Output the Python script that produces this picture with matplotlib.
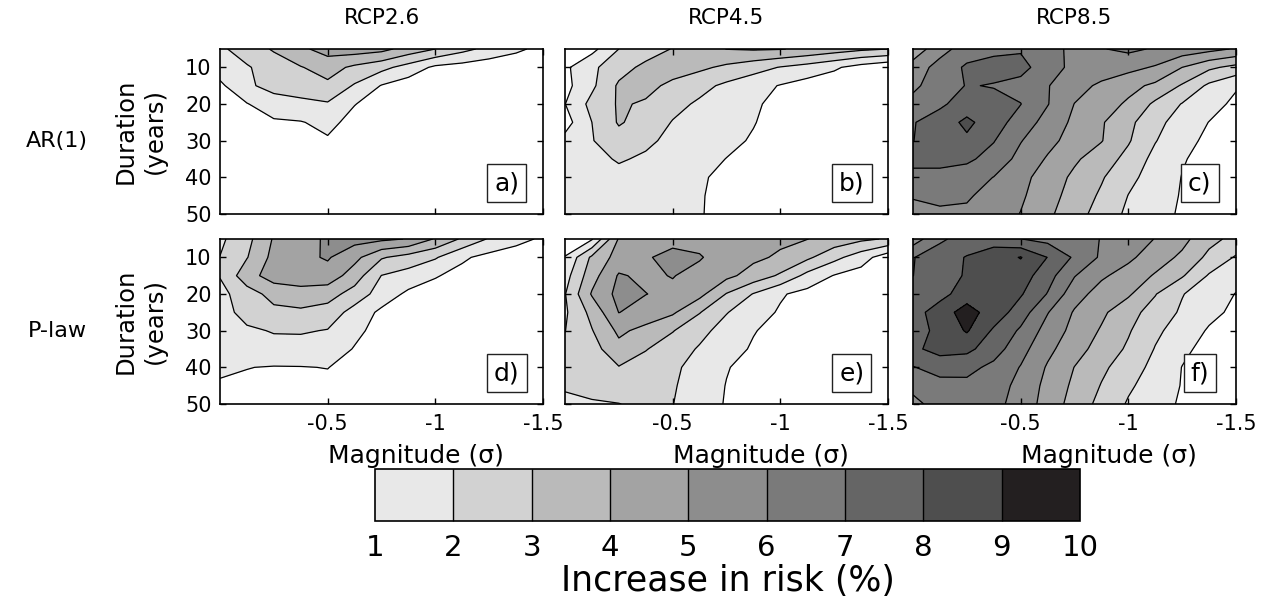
import matplotlib
matplotlib.use("Agg")
import matplotlib.pyplot as plt
from matplotlib.colors import ListedColormap, BoundaryNorm
from matplotlib.cm import ScalarMappable

plt.rcParams['font.family'] = ['DejaVu Sans']
plt.rcParams['axes.unicode_minus'] = False

# grid of the risk maps
magnitude = [0, -0.125, -0.25, -0.375, -0.5, -0.625, -0.75, -0.875,
             -1.0, -1.125, -1.25, -1.375, -1.5]
duration = [5, 10, 15, 20, 25, 30, 35, 40, 45, 50]

# increase in risk (%), rows = duration, cols = magnitude
risk_a = [
    [1.8, 2.5, 3.1, 3.8, 4.4, 4.5, 4.3, 3.6, 3.0, 2.3, 1.7, 1.2, 0.7],
    [1.5, 1.9, 2.5, 2.95, 3.4, 2.8, 2.3, 1.6, 0.8, 0.6, 0.4, 0.3, 0.2],
    [0.8, 1.85, 2.3, 2.6, 2.8, 1.9, 0.95, 0.5, 0.4, 0.3, 0.3, 0.2, 0.2],
    [0.6, 0.95, 1.6, 1.7, 1.9, 1.03, 0.6, 0.4, 0.3, 0.3, 0.2, 0.2, 0.1],
    [0.4, 0.6, 0.85, 0.95, 1.25, 0.7, 0.5, 0.3, 0.3, 0.2, 0.2, 0.1, 0.1],
    [0.3, 0.5, 0.6, 0.7, 0.9, 0.6, 0.4, 0.3, 0.2, 0.2, 0.1, 0.1, 0.1],
    [0.3, 0.4, 0.5, 0.6, 0.7, 0.5, 0.4, 0.3, 0.2, 0.2, 0.1, 0.1, 0.1],
    [0.2, 0.3, 0.4, 0.5, 0.6, 0.4, 0.3, 0.2, 0.2, 0.1, 0.1, 0.1, 0.1],
    [0.2, 0.3, 0.3, 0.4, 0.5, 0.4, 0.3, 0.2, 0.1, 0.1, 0.1, 0.1, 0.1],
    [0.2, 0.2, 0.3, 0.3, 0.4, 0.3, 0.2, 0.2, 0.1, 0.1, 0.1, 0.1, 0.1],
]
risk_b = [
    [0.4, 0.7, 2.0, 2.5, 3.05, 3.5, 4.02, 4.1, 4.05, 3.8, 3.5, 3.2, 3.0],
    [0.8, 1.8, 2.6, 3.25, 3.4, 3.2, 2.8, 2.4, 1.95, 1.6, 1.15, 0.6, 0.2],
    [0.7, 1.8, 3.15, 3.25, 2.8, 2.3, 1.8, 1.35, 0.95, 0.6, 0.4, 0.3, 0.2],
    [0.98, 2.3, 3.1, 2.9, 2.3, 1.85, 1.6, 1.15, 0.7, 0.5, 0.35, 0.25, 0.2],
    [0.6, 2.0, 3.1, 2.6, 1.95, 1.7, 1.45, 1.05, 0.6, 0.45, 0.3, 0.25, 0.2],
    [1.3, 1.95, 2.6, 2.2, 1.75, 1.5, 1.25, 0.9, 0.55, 0.4, 0.3, 0.25, 0.2],
    [1.4, 1.7, 2.1, 1.85, 1.6, 1.35, 0.98, 0.7, 0.5, 0.4, 0.3, 0.2, 0.2],
    [1.4, 1.5, 1.7, 1.55, 1.4, 1.1, 0.8, 0.6, 0.45, 0.35, 0.3, 0.2, 0.2],
    [1.35, 1.4, 1.5, 1.4, 1.3, 1.05, 0.8, 0.6, 0.5, 0.4, 0.3, 0.2, 0.2],
    [1.3, 1.35, 1.4, 1.35, 1.25, 1.05, 0.75, 0.55, 0.45, 0.35, 0.3, 0.2, 0.2],
]
risk_c = [
    [4.4, 5.6, 6.5, 6.8, 6.9, 6.3, 5.8, 5.95, 6.2, 5.9, 5.6, 5.3, 4.9],
    [5.4, 6.4, 7.15, 7.3, 7.3, 6.5, 5.7, 5.6, 5.3, 4.9, 4.0, 3.2, 2.7],
    [5.8, 6.5, 7.05, 6.95, 6.7, 6.05, 5.4, 4.8, 4.3, 3.8, 2.9, 1.8, 1.1],
    [6.3, 6.85, 7.4, 7.3, 7.02, 6.05, 4.98, 4.45, 3.85, 2.8, 1.95, 1.35, 0.8],
    [6.95, 7.4, 8.25, 7.4, 6.6, 5.6, 4.8, 4.1, 3.25, 2.3, 1.55, 0.98, 0.6],
    [6.98, 7.5, 7.8, 7.05, 6.05, 5.3, 4.6, 4.05, 3.1, 2.05, 1.3, 0.8, 0.5],
    [7.3, 7.35, 7.2, 6.6, 5.7, 4.9, 4.15, 3.5, 2.7, 1.7, 1.07, 0.7, 0.4],
    [6.7, 6.65, 6.45, 5.98, 5.3, 4.55, 3.8, 3.1, 2.25, 1.6, 0.97, 0.6, 0.35],
    [6.05, 6.2, 6.1, 5.7, 5.15, 4.4, 3.6, 2.85, 1.98, 1.5, 0.92, 0.55, 0.3],
    [5.8, 5.85, 5.85, 5.5, 4.97, 4.2, 3.4, 2.6, 1.8, 1.4, 0.85, 0.5, 0.3],
]
risk_d = [
    [1.8, 2.7, 4.1, 4.6, 5.15, 5.35, 5.2, 4.95, 3.9, 2.85, 1.9, 1.3, 0.85],
    [2.02, 2.95, 4.3, 4.75, 5.1, 4.3, 3.1, 2.6, 2.1, 1.15, 0.7, 0.5, 0.4],
    [2.05, 3.6, 4.45, 4.7, 4.6, 3.5, 1.98, 1.6, 1.07, 0.7, 0.45, 0.35, 0.3],
    [1.7, 2.55, 3.35, 3.5, 3.4, 2.6, 1.55, 0.8, 0.6, 0.45, 0.35, 0.3, 0.25],
    [1.6, 2.35, 2.75, 2.85, 2.6, 1.6, 0.8, 0.55, 0.45, 0.35, 0.3, 0.25, 0.2],
    [1.5, 1.85, 2.06, 2.1, 1.95, 1.2, 0.7, 0.5, 0.4, 0.3, 0.25, 0.2, 0.2],
    [1.4, 1.55, 1.7, 1.6, 1.45, 0.95, 0.6, 0.45, 0.35, 0.3, 0.2, 0.2, 0.2],
    [1.15, 1.02, 0.95, 0.97, 1.02, 0.7, 0.5, 0.4, 0.3, 0.25, 0.2, 0.2, 0.15],
    [0.9, 0.85, 0.8, 0.8, 0.8, 0.6, 0.45, 0.35, 0.3, 0.2, 0.2, 0.15, 0.15],
    [0.7, 0.7, 0.7, 0.7, 0.7, 0.5, 0.4, 0.3, 0.25, 0.2, 0.15, 0.15, 0.1],
]
risk_e = [
    [0.3, 0.9, 4.1, 4.5, 4.7, 4.6, 4.45, 4.35, 4.2, 4.02, 3.6, 3.2, 2.9],
    [1.05, 3.2, 4.4, 4.9, 5.3, 5.1, 4.4, 4.2, 3.85, 3.2, 2.3, 1.45, 0.4],
    [1.6, 3.6, 5.1, 4.8, 5.05, 4.6, 4.25, 3.6, 2.85, 1.7, 0.95, 0.6, 0.35],
    [1.95, 4.1, 5.3, 5.02, 4.75, 4.3, 2.95, 1.95, 1.1, 0.7, 0.5, 0.4, 0.3],
    [1.85, 3.3, 5.02, 4.6, 4.15, 3.05, 2.05, 1.4, 0.9, 0.6, 0.45, 0.35, 0.3],
    [1.98, 2.95, 4.2, 3.7, 3.05, 2.3, 1.6, 1.05, 0.7, 0.5, 0.4, 0.3, 0.25],
    [2.2, 2.6, 3.7, 3.05, 2.5, 1.9, 1.35, 0.9, 0.6, 0.45, 0.35, 0.3, 0.2],
    [2.3, 2.5, 2.95, 2.6, 2.2, 1.6, 1.05, 0.7, 0.5, 0.4, 0.3, 0.25, 0.2],
    [2.1, 2.3, 2.45, 2.35, 2.1, 1.5, 0.97, 0.65, 0.45, 0.35, 0.3, 0.25, 0.2],
    [1.8, 1.9, 1.98, 2.2, 2.02, 1.45, 0.93, 0.6, 0.45, 0.35, 0.3, 0.2, 0.2],
]
risk_f = [
    [5.5, 6.8, 7.5, 7.6, 7.02, 6.7, 6.35, 5.97, 5.5, 4.97, 4.3, 3.3, 2.7],
    [6.95, 7.6, 8.05, 8.5, 9.05, 7.98, 6.85, 5.85, 5.2, 4.5, 3.8, 2.75, 1.9],
    [6.99, 7.55, 8.1, 8.6, 8.5, 7.4, 6.05, 5.15, 4.6, 3.9, 3.1, 1.9, 1.3],
    [7.3, 7.6, 8.6, 8.5, 8.1, 6.95, 5.4, 4.6, 4.15, 3.05, 2.05, 1.45, 0.97],
    [7.5, 8.6, 9.35, 8.6, 7.5, 6.05, 4.9, 4.2, 3.35, 2.6, 1.85, 1.25, 0.8],
    [7.6, 8.25, 9.1, 7.85, 6.85, 5.6, 4.7, 3.9, 3.1, 2.2, 1.55, 0.9, 0.6],
    [7.8, 8.35, 8.25, 7.45, 6.35, 5.25, 4.4, 3.6, 2.85, 1.95, 1.2, 0.7, 0.5],
    [6.95, 7.4, 7.3, 6.75, 5.95, 4.9, 3.98, 3.2, 2.5, 1.7, 0.98, 0.6, 0.4],
    [6.2, 6.65, 6.75, 6.4, 5.75, 4.7, 3.8, 2.95, 2.15, 1.55, 0.95, 0.55, 0.35],
    [5.8, 6.3, 6.35, 6.3, 5.6, 4.6, 3.6, 2.7, 1.9, 1.45, 0.85, 0.5, 0.3],
]

scenarios = ["RCP2.6", "RCP4.5", "RCP8.5"]
models = ["AR(1)", "P-law"]
panel_tags = ["a)", "b)", "c)", "d)", "e)", "f)"]
risk_levels = [1, 2, 3, 4, 5, 6, 7, 8, 9, 10]
band_colors = ["#e8e8e8", "#d2d2d2", "#bababa", "#a3a3a3", "#8d8d8d",
               "#7a7a7a", "#656565", "#4e4e4e", "#231f20"]

fig = plt.figure(figsize=(12.64, 5.99), dpi=100)
W, H = 1264.0, 599.0
col_left = [220, 565, 913]
row_top = [49, 239]
pw, ph = 323, 165

grids = [[risk_a, risk_b, risk_c], [risk_d, risk_e, risk_f]]
for r in range(2):
    for c in range(3):
        ax = fig.add_axes([col_left[c] / W, 1 - (row_top[r] + ph) / H, pw / W, ph / H])
        z = grids[r][c]
        ax.contourf(magnitude, duration, z, levels=[-1] + risk_levels,
                    colors=["white"] + band_colors)
        ax.contour(magnitude, duration, z, levels=risk_levels[:-1],
                   colors="k", linewidths=0.9)
        ax.set_xlim(0, -1.5)
        ax.set_ylim(50, 5)
        ax.set_xticks([-0.5, -1, -1.5])
        ax.set_yticks([10, 20, 30, 40, 50])
        ax.tick_params(direction="in", top=True, right=True, length=4,
                       width=1, labelsize=15)
        ax.tick_params(axis="x", pad=7)
        ax.tick_params(axis="y", pad=6)
        for s in ax.spines.values():
            s.set_linewidth(1.2)
        if r == 0:
            ax.set_xticklabels([])
            fig.text((col_left[c] + pw / 2) / W, 1 - 18 / H, scenarios[c],
                     ha="center", va="center", fontsize=15.5)
        else:
            ax.set_xticklabels(["-0.5", "-1", "-1.5"])
            fig.text((col_left[c] + pw / 2 + 34) / W, 1 - 456 / H, "Magnitude (σ)",
                     ha="center", va="center", fontsize=18)
        if c == 0:
            fig.text(140 / W, 1 - (row_top[r] + ph / 2) / H, "Duration\n(years)",
                     rotation=90, ha="center", va="center", fontsize=17.5,
                     linespacing=1.3, multialignment="center")
        else:
            ax.set_yticklabels([])
        ax.text(0.888, 0.187, panel_tags[r * 3 + c], transform=ax.transAxes,
                ha="center", va="center", fontsize=18,
                bbox=dict(boxstyle="square,pad=0.28", fc="white", ec="#222222", lw=1))

fig.text(57 / W, 1 - 141 / H, models[0], ha="center", va="center", fontsize=16)
fig.text(57 / W, 1 - 331 / H, models[1], ha="center", va="center", fontsize=16)

cax = fig.add_axes([375 / W, 1 - 521 / H, 705 / W, 52 / H])
sm = ScalarMappable(norm=BoundaryNorm(risk_levels, 9), cmap=ListedColormap(band_colors))
cb = fig.colorbar(sm, cax=cax, orientation="horizontal", ticks=risk_levels,
                  drawedges=True)
cb.outline.set_linewidth(1.2)
cb.dividers.set_linewidth(1)
cb.ax.tick_params(length=0, labelsize=21, pad=9)
cb.set_label("Increase in risk (%)", fontsize=25, labelpad=2)

fig.savefig("out.png", dpi=100)
